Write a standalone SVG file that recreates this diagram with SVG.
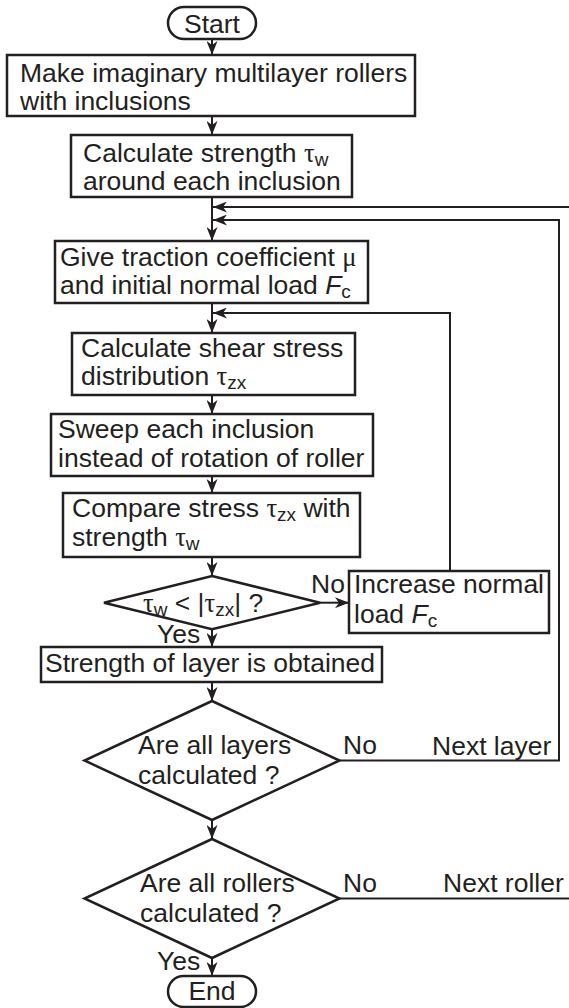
<svg xmlns="http://www.w3.org/2000/svg" width="569" height="1008" viewBox="0 0 569 1008">
<defs>
<marker id="ah" viewBox="0 0 14 11" refX="14" refY="5.5" markerWidth="14" markerHeight="11" markerUnits="userSpaceOnUse" orient="auto"><path d="M0,0 L14,5.5 L0,11 L4,5.5 Z" fill="#231f20"/></marker>
</defs>
<style>
.s{fill:#fff;stroke:#231f20;stroke-width:2.5}
.c{fill:none;stroke:#231f20;stroke-width:2}
text{font-family:"Liberation Sans",Arial,sans-serif;font-size:26.5px;fill:#231f20}
.g{font-family:"Liberation Serif","Times New Roman",serif}
.sub{font-size:19px}
.it{font-style:italic}
</style>
<rect width="569" height="1008" fill="#fff"/>
<g id="connectors">
<path class="c" marker-end="url(#ah)" d="M212,39V55"/>
<path class="c" marker-end="url(#ah)" d="M212,116V135"/>
<path class="c" marker-end="url(#ah)" d="M212,197V241"/>
<path class="c" marker-end="url(#ah)" d="M569,207H213"/>
<path class="c" marker-end="url(#ah)" d="M339.5,760.5H559V220H213"/>
<path class="c" marker-end="url(#ah)" d="M212,303V333"/>
<path class="c" marker-end="url(#ah)" d="M450,571V313H213"/>
<path class="c" marker-end="url(#ah)" d="M212,395V414"/>
<path class="c" marker-end="url(#ah)" d="M212,476V493"/>
<path class="c" marker-end="url(#ah)" d="M212,557V576"/>
<path class="c" marker-end="url(#ah)" d="M320,602.7H349"/>
<path class="c" marker-end="url(#ah)" d="M212,629.3V647"/>
<path class="c" marker-end="url(#ah)" d="M212,682V701"/>
<path class="c" marker-end="url(#ah)" d="M212,820V839"/>
<path class="c" d="M339.5,898.5H569"/>
<path class="c" marker-end="url(#ah)" d="M212,958V976"/>
</g>
<g id="start"><rect class="s" x="168" y="7" width="88" height="32" rx="16"/><text x="212" y="33" text-anchor="middle">Start</text></g>
<g id="make"><rect class="s" x="7" y="55" width="408" height="61"/><text x="20" y="82">Make imaginary multilayer rollers</text><text x="20" y="110">with inclusions</text></g>
<g id="calcstrength"><rect class="s" x="71" y="135" width="281" height="62"/><text x="83" y="162">Calculate strength <tspan class="g">τ</tspan><tspan class="sub" dy="4">w</tspan></text><text x="83" y="190">around each inclusion</text></g>
<g id="give"><rect class="s" x="55" y="241" width="313" height="62"/><text x="60" y="266">Give traction coefficient <tspan class="g">μ</tspan></text><text x="60" y="294">and initial normal load <tspan class="it">F</tspan><tspan class="sub" dy="4">c</tspan></text></g>
<g id="shear"><rect class="s" x="72" y="333" width="283" height="62"/><text x="81" y="357">Calculate shear stress</text><text x="81" y="385">distribution <tspan class="g">τ</tspan><tspan class="sub" dy="4">zx</tspan></text></g>
<g id="sweep"><rect class="s" x="51" y="414" width="322" height="62"/><text x="58" y="438">Sweep each inclusion</text><text x="58" y="467">instead of rotation of roller</text></g>
<g id="compare"><rect class="s" x="63" y="493" width="297" height="64"/><text x="72" y="517">Compare stress <tspan class="g">τ</tspan><tspan class="sub" dy="4">zx</tspan><tspan dy="-4"> with</tspan></text><text x="72" y="546">strength <tspan class="g">τ</tspan><tspan class="sub" dy="4">w</tspan></text></g>
<g id="decision1"><polygon class="s" points="212,576 320,602.7 212,629.3 104,602.7"/><text x="143" y="612"><tspan class="g">τ</tspan><tspan class="sub" dy="4">w</tspan><tspan dy="-4"> &lt; |</tspan><tspan class="g">τ</tspan><tspan class="sub" dy="4">zx</tspan><tspan dy="-4">| ?</tspan></text></g>
<g id="increase"><rect class="s" x="349" y="571" width="200" height="62"/><text x="354" y="593">Increase normal</text><text x="354" y="623">load <tspan class="it">F</tspan><tspan class="sub" dy="4">c</tspan></text></g>
<g id="obtained"><rect class="s" x="41" y="647" width="341" height="35"/><text x="45" y="672">Strength of layer is obtained</text></g>
<g id="decision2"><polygon class="s" points="212,701 339.5,760.5 212,820 84.5,760.5"/><text x="138" y="754">Are all layers</text><text x="138" y="784">calculated ?</text></g>
<g id="decision3"><polygon class="s" points="212,839 339.5,898.5 212,958 84.5,898.5"/><text x="140" y="892">Are all rollers</text><text x="140" y="922">calculated ?</text></g>
<g id="end"><rect class="s" x="168" y="976" width="88" height="31" rx="15.5"/><text x="212" y="1000" text-anchor="middle">End</text></g>
<g id="labels">
<text x="311" y="593">No</text>
<text x="157" y="643">Yes</text>
<text x="343" y="754">No</text>
<text x="432" y="755">Next layer</text>
<text x="343" y="892">No</text>
<text x="443" y="892">Next roller</text>
<text x="157" y="970">Yes</text>
</g>
</svg>
